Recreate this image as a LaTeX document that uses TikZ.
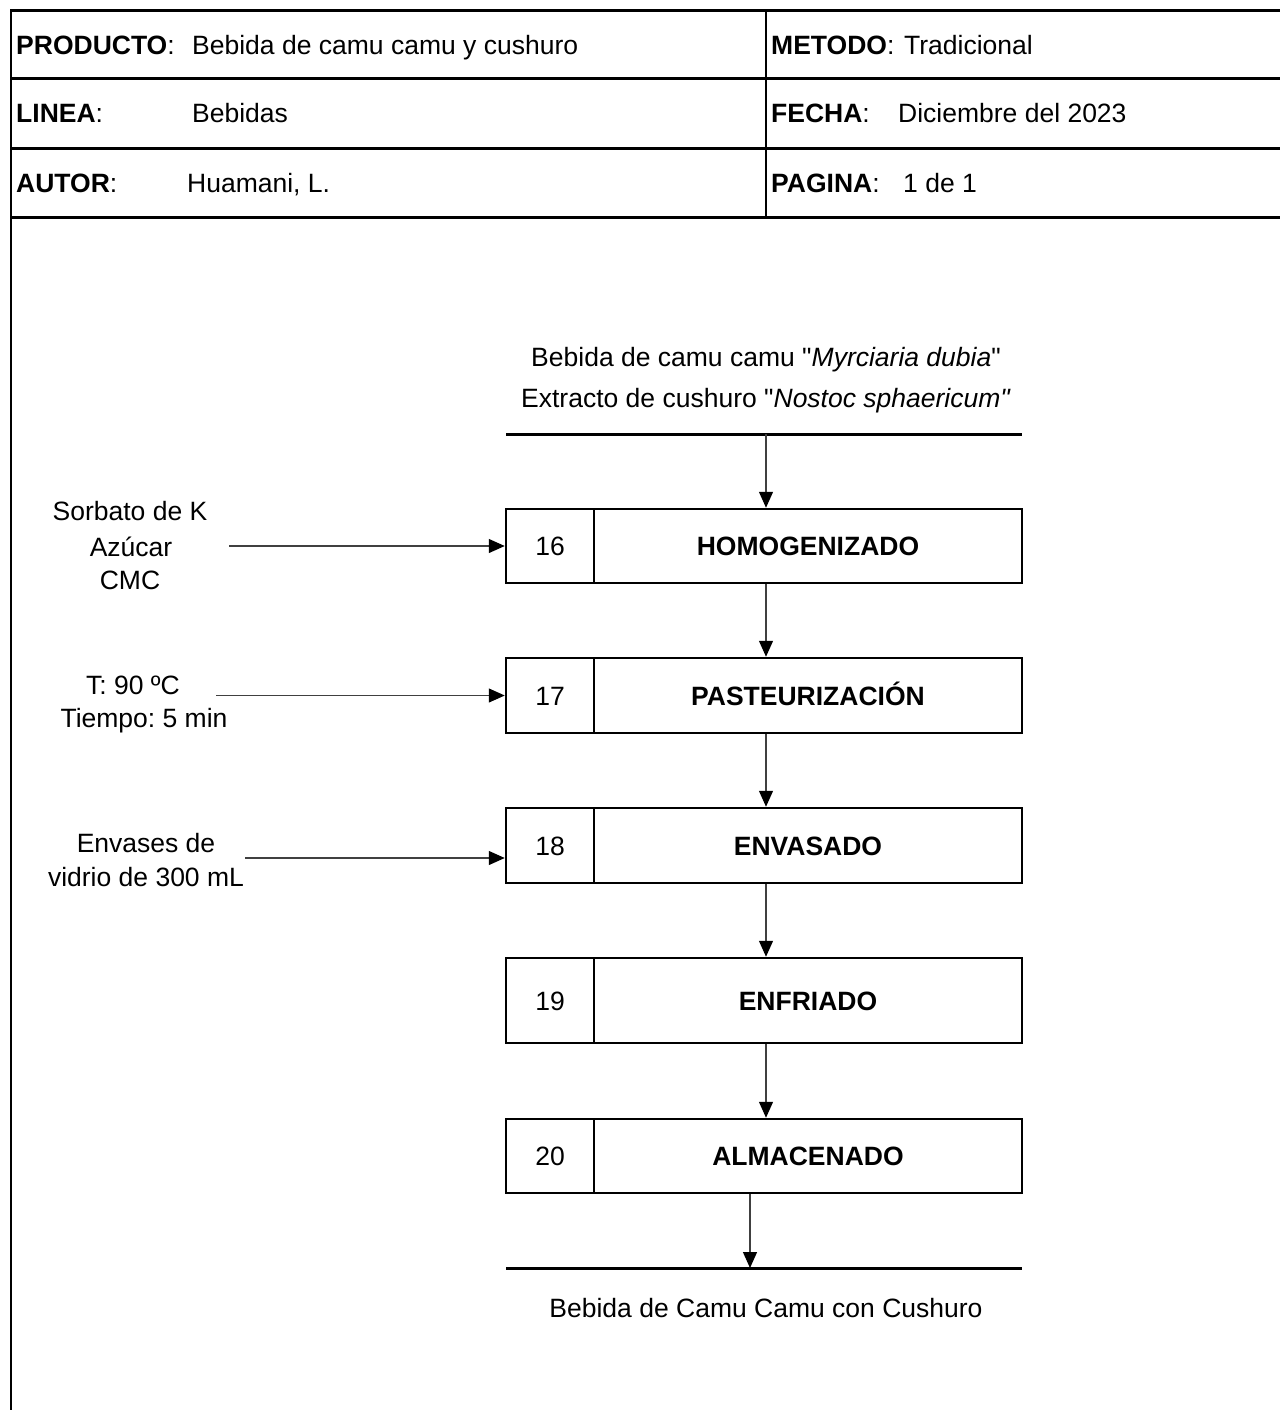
\documentclass[tikz,border=0pt]{standalone}
\usepackage{fontspec}
\setmainfont{Liberation Sans}[Ligatures=TeXOff]
\frenchspacing
\usetikzlibrary{arrows.meta}
\begin{document}
\begin{tikzpicture}[x=1pt,y=-1pt,
  txt/.style={font=\fontsize{26.5}{34}\selectfont\frenchspacing, inner sep=0pt},
  hdr/.style={txt, anchor=base west},
  lbl/.style={txt, anchor=base},
  frameline/.style={line width=3pt},
  boxline/.style={draw, line width=2.5pt, text height=19pt, text depth=0pt},
  numcell/.style={boxline, txt, minimum width=88pt, minimum height=74pt},
  labcell/.style={boxline, txt, font=\fontsize{26.5}{34}\selectfont\bfseries, minimum width=428pt, minimum height=74pt},
  arr/.style={line width=1.3pt, draw=black!75, -{Triangle[width=14pt,length=16pt,color=black]}}
]
\useasboundingbox (0,0) rectangle (1280,1410);
\fill[white] (0,0) rectangle (1280,1410);

% header frame
\draw[line width=2pt] (11,1410) -- (11,10);
\draw[frameline] (10,11) -- (1280,11);
\draw[frameline] (10,79) -- (1280,79);
\draw[frameline] (10,148) -- (1280,148);
\draw[frameline] (10,217) -- (1280,217);
\draw[line width=1.5pt] (766,11) -- (766,217);

% header texts
\node[hdr] (prod) at (16,54.5) {\textbf{PRODUCTO}:};
\node[hdr] (prodv) at (192,54.5) {Bebida de camu camu y cushuro};
\node[hdr] (linea) at (16,123) {\textbf{LINEA}:};
\node[hdr] (lineav) at (192,123) {Bebidas};
\node[hdr] (autor) at (16,192) {\textbf{AUTOR}:};
\node[hdr] (autorv) at (187,192) {Huamani, L.};
\node[hdr] (met) at (771,54.5) {\textbf{METODO}:};
\node[hdr] (metv) at (904,54.5) {Tradicional};
\node[hdr] (fecha) at (771,123) {\textbf{FECHA}:};
\node[hdr] (fechav) at (898,123) {Diciembre del 2023};
\node[hdr] (pag) at (771,192) {\textbf{PAGINA}:};
\node[hdr] (pagv) at (903,192) {1 de 1};

% source
\node[lbl] (src1) at (766,366.5) {Bebida de camu camu "\textit{Myrciaria dubia}"};
\node[lbl] (src2) at (766,407.5) {Extracto de cushuro "\textit{Nostoc sphaericum"}};
\coordinate (tlA) at (506,434);
\coordinate (tlB) at (1022,434);
\draw[frameline] (tlA) -- (tlB);
\coordinate (ax) at (766,434);

% process boxes
\node[numcell] (n16) at (550,546) {16};
\node[labcell] (l16) at (808,546) {HOMOGENIZADO};
\node[numcell, minimum height=75pt] (n17) at (550,695.5) {17};
\node[labcell, minimum height=75pt] (l17) at (808,695.5) {PASTEURIZACIÓN};
\node[numcell, minimum height=75pt] (n18) at (550,845.5) {18};
\node[labcell, minimum height=75pt] (l18) at (808,845.5) {ENVASADO};
\node[numcell, minimum height=85pt] (n19) at (550,1000.5) {19};
\node[labcell, minimum height=85pt] (l19) at (808,1000.5) {ENFRIADO};
\node[numcell] (n20) at (550,1156) {20};
\node[labcell] (l20) at (808,1156) {ALMACENADO};

% output
\coordinate (blA) at (506,1268);
\coordinate (blB) at (1022,1268);
\draw[frameline] (blA) -- (blB);
\coordinate (bx) at (750,1268);
\node[lbl] (out) at (766,1317.5) {Bebida de Camu Camu con Cushuro};

% vertical flow arrows
\draw[arr] (ax) -- (ax |- l16.north);
\draw[arr] (ax |- l16.south) -- (ax |- l17.north);
\draw[arr] (ax |- l17.south) -- (ax |- l18.north);
\draw[arr] (ax |- l18.south) -- (ax |- l19.north);
\draw[arr] (ax |- l19.south) -- (ax |- l20.north);
\draw[arr] (bx |- l20.south) -- (bx);

% inputs
\node[lbl] (in1a) at (130,520.5) {Sorbato de K};
\node[lbl] (in1b) at (131,556.5) {Azúcar};
\node[lbl] (in1c) at (130,589.5) {CMC};
\coordinate (c1) at (229,546);
\draw[arr] (c1) -- (c1 -| n16.west);

\node[lbl] (in2a) at (133,694.5) {T: 90 ºC};
\node[lbl] (in2b) at (144,727.5) {Tiempo: 5 min};
\coordinate (c2) at (216,695.5);
\draw[arr] (c2) -- (c2 -| n17.west);

\node[lbl] (in3a) at (146,852.5) {Envases de};
\node[lbl] (in3b) at (146,886.5) {vidrio de 300 mL};
\coordinate (c3) at (245,858);
\draw[arr] (c3) -- (c3 -| n18.west);
\end{tikzpicture}
\end{document}
